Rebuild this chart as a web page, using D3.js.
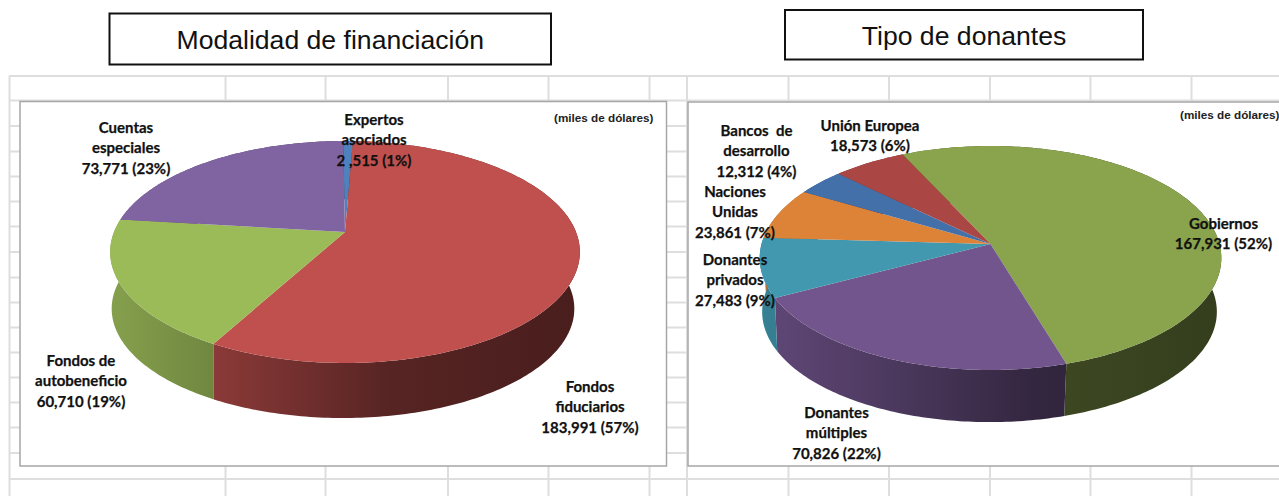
<!DOCTYPE html>
<html>
<head>
<meta charset="utf-8">
<script src="https://cdnjs.cloudflare.com/ajax/libs/d3/7.8.5/d3.min.js"></script>
<style>
  html, body { margin: 0; padding: 0; background: #fff; overflow: hidden; }
  svg { display: block; }
  .lbl { font-family: Lato, "Open Sans", sans-serif; font-weight: 700; font-size: 15px; fill: #111; stroke: #111; stroke-width: 0.25px; text-anchor: middle; }
  .unit { font-family: "Liberation Sans", Arial, sans-serif; font-weight: 700; font-size: 10.5px; fill: #222; }
  .title { font-family: "Liberation Sans", Arial, sans-serif; font-size: 26.6px; fill: #111; text-anchor: middle; }
</style>
</head>
<body>
<svg width="1279" height="496"></svg>
<script>
// left chart
const fundCats = [["Expertos", "asociados"], ["Fondos", "fiduciarios"], ["Fondos de", "autobeneficio"], ["Cuentas", "especiales"]];
const fundValues = [2515, 183991, 60710, 73771];
const fundTexts = ["2 ,515 (1%)", "183,991 (57%)", "60,710 (19%)", "73,771 (23%)"];
const fundColors = ["#4f81bd", "#c0504d", "#9bbb59", "#8064a2"];

// right chart
const donorCats = [["Gobiernos"], ["Donantes", "múltiples"], ["Donantes", "privados"], ["Naciones", "Unidas"], ["Bancos  de", "desarrollo"], ["Unión Europea"]];
const donorValues = [167931, 70826, 27483, 23861, 12312, 18573];
const donorTexts = ["167,931 (52%)", "70,826 (22%)", "27,483 (9%)", "23,861 (7%)", "12,312 (4%)", "18,573 (6%)"];
const donorColors = ["#8aa34d", "#71558c", "#4198af", "#dd8338", "#4370a8", "#aa4643"];

// sheet grid behind the charts
const gridX = [225.5, 325.5, 448, 548.5, 649.5, 788.5, 889, 990, 1090.5, 1191.5];
const gridY = [76, 100.5, 126, 151.5, 176.5, 201.5, 226.5, 252, 277.5, 302.5, 327.5, 352.5, 377.5, 402.5, 427.5, 453, 479];

const svg = d3.select("svg");
const defs = svg.append("defs");

svg.selectAll("line.gridh").data(gridY).join("line")
  .attr("x1", 9).attr("x2", 1279).attr("y1", d => d).attr("y2", d => d)
  .attr("stroke", "#dedede").attr("stroke-width", 2);
svg.selectAll("line.gridv").data(gridX.concat([9.5, 687])).join("line")
  .attr("x1", d => d).attr("x2", d => d).attr("y1", 76).attr("y2", 496)
  .attr("stroke", "#dedede").attr("stroke-width", 2);

function drawTitle(text, x0, x1, y0, y1) {
  svg.append("rect").attr("x", x0).attr("y", y0).attr("width", x1 - x0).attr("height", y1 - y0)
    .attr("fill", "#fff").attr("stroke", "#111").attr("stroke-width", 2);
  svg.append("text").attr("class", "title").attr("x", (x0 + x1) / 2).attr("y", (y0 + y1) / 2 + 10).text(text);
}

function drawPanel(x0, x1, y0, y1) {
  svg.append("rect").attr("x", x0).attr("y", y0).attr("width", x1 - x0).attr("height", y1 - y0)
    .attr("fill", "#fff").attr("stroke", "#a6a6a6").attr("stroke-width", 1.5);
}

// g: ax, ay = hub of the pie, a = x radius, d/c = perspective, depth = side height
function drawPie(id, values, colors, g) {
  const arcs = d3.pie().sort(null).startAngle(g.start).endAngle(g.start + 2 * Math.PI)(values);

  function top(t) {
    const u = Math.sin(t), v = -Math.cos(t), w = 1 + g.c * v;
    return [g.ax + g.a * u / w, g.ay + g.d * v / w];
  }
  function bottom(t) {
    const p = top(t);
    return [g.ax + g.shift + (p[0] - g.ax) * g.shrink, g.ay + g.depth + (p[1] - g.ay) * g.shrink];
  }
  function steps(a) {
    const n = Math.max(2, Math.ceil((a.endAngle - a.startAngle) * 60));
    return d3.range(n + 1).map(i => a.startAngle + (a.endAngle - a.startAngle) * i / n);
  }
  const line = d3.line();

  colors.forEach((c, i) => {
    const grad = defs.append("linearGradient").attr("id", id + i)
      .attr("gradientUnits", "userSpaceOnUse")
      .attr("x1", g.ax - g.a).attr("x2", g.ax + g.a).attr("y1", 0).attr("y2", 0);
    g.shade.forEach(s => {
      const col = d3.rgb(c);
      grad.append("stop").attr("offset", s[0])
        .attr("stop-color", d3.rgb(col.r * s[1], col.g * s[1], col.b * s[1]).formatHex());
    });
  });

  // sides first, the top surface then hides their back part
  svg.append("g").selectAll("path").data(arcs).join("path")
    .attr("d", a => {
      const t = steps(a);
      return line(t.map(top).concat(t.slice().reverse().map(bottom))) + "Z";
    })
    .attr("fill", (a, i) => `url(#${id}${i})`);

  svg.append("g").selectAll("path").data(arcs).join("path")
    .attr("d", a => line([[g.ax, g.ay]].concat(steps(a).map(top))) + "Z")
    .attr("fill", (a, i) => colors[i]);
}

function drawLabels(cats, texts, spots) {
  cats.forEach((c, i) => {
    const lines = c.concat([texts[i]]);
    const t = svg.append("text").attr("class", "lbl").attr("xml:space", "preserve");
    lines.forEach((s, k) => {
      t.append("tspan").attr("x", spots[i][0]).attr("y", spots[i][1] + k * 20.4).text(s);
    });
  });
}

drawTitle("Modalidad de financiación", 109.5, 551, 13.5, 64.5);
drawTitle("Tipo de donantes", 785, 1143, 10, 59.5);
drawPanel(20, 666.5, 101.5, 466);
drawPanel(688, 1285, 102, 466);

const shade = [[0, 0.85], [0.25, 0.7], [0.6, 0.45], [1, 0.38]];

drawPie("fund", fundValues, fundColors, {
  ax: 345, ay: 232, a: 231, d: 107.4, c: -0.18, depth: 57, shrink: 0.985, shift: -2,
  start: -0.5 * Math.PI / 180, shade: shade
});
drawPie("donor", donorValues, donorColors, {
  ax: 990.5, ay: 244, a: 229, d: 110.25, c: -0.125, depth: 54, shrink: 0.985, shift: -1,
  start: -25.3 * Math.PI / 180, shade: shade
});

// label anchors: first line baseline
drawLabels(fundCats, fundTexts, [[374, 125], [590, 392], [81, 366], [126, 133]]);
drawLabels(donorCats, donorTexts, [[1223.5, 229], [836.5, 418], [735, 265], [735, 197], [756.5, 136], [870, 131]]);

svg.append("text").attr("class", "unit").attr("x", 554).attr("y", 122)
  .attr("textLength", 99.5).attr("lengthAdjust", "spacingAndGlyphs").text("(miles de dólares)");
svg.append("text").attr("class", "unit").attr("x", 1180).attr("y", 119)
  .attr("textLength", 99.5).attr("lengthAdjust", "spacingAndGlyphs").text("(miles de dólares)");
</script>
</body>
</html>
